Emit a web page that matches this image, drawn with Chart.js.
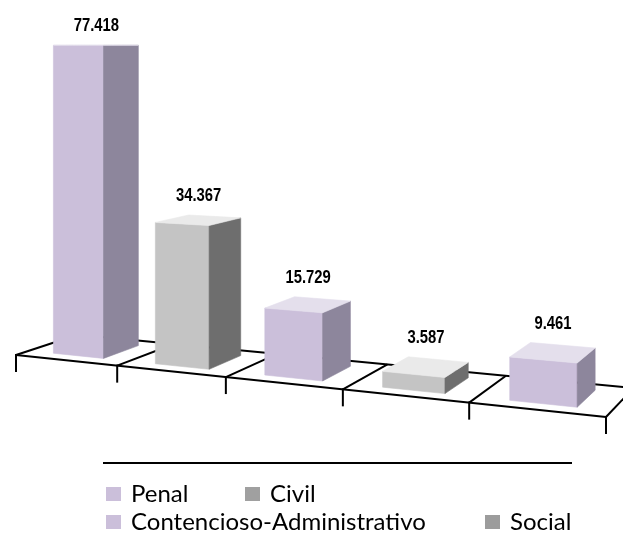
<!DOCTYPE html>
<html>
<head>
<meta charset="utf-8">
<script src="https://cdn.jsdelivr.net/npm/chart.js@4.4.1/dist/chart.umd.min.js"></script>
<style>
  html, body { margin: 0; padding: 0; background: #fff; }
  #chart { display: block; }
</style>
</head>
<body>
<canvas id="chart" width="623" height="535"></canvas>
<script>
// data
const categories = ["Penal", "Civil", "Contencioso-Administrativo", "Social", "Militar"];
const values = [77418, 34367, 15729, 3587, 9461];
const legendLabels = ["Penal", "Civil", "Contencioso-Administrativo", "Social"];

// styles
const frontColors = ["#CBBFDA", "#C4C4C4", "#CBBFDA", "#C4C4C4", "#CBBFDA"];
const sideColors = ["#8D869C", "#6E6E6E", "#8D869C", "#6E6E6E", "#8D869C"];
const topColors = ["#E4DFEC", "#EAEAEA", "#E4DFEC", "#EAEAEA", "#E4DFEC"];
const legendColors = ["#CBBFDA", "#A0A0A0", "#CBBFDA", "#9C9C9C"];

// 3d view: floor corners on screen, horizon line, bar depth on the floor
const HORIZON = 43;
const CAMERA_H = 78000; // value whose top would sit on the horizon
const FLOOR = { fl: [16, 355], fr: [606, 417], br: [633.6, 388], bl: [77.6, 334.7] };
const DEPTH = [0.2, 0.8];

function fmt(v) {
  return String(v).replace(/\B(?=(\d{3})+(?!\d))/g, ".");
}

// unit square -> floor quad
function makeHomography(p0, p1, p2, p3) {
  const dx1 = p1[0] - p2[0], dx2 = p3[0] - p2[0], dx3 = p0[0] - p1[0] + p2[0] - p3[0];
  const dy1 = p1[1] - p2[1], dy2 = p3[1] - p2[1], dy3 = p0[1] - p1[1] + p2[1] - p3[1];
  const den = dx1 * dy2 - dx2 * dy1;
  const g = (dx3 * dy2 - dx2 * dy3) / den;
  const h = (dx1 * dy3 - dx3 * dy1) / den;
  const a = p1[0] - p0[0] + g * p1[0], b = p3[0] - p0[0] + h * p3[0], c = p0[0];
  const d = p1[1] - p0[1] + g * p1[1], e = p3[1] - p0[1] + h * p3[1], f = p0[1];
  return (u, v) => {
    const w = g * u + h * v + 1;
    return [(a * u + b * v + c) / w, (d * u + e * v + f) / w];
  };
}
const floorAt = makeHomography(FLOOR.fl, FLOOR.fr, FLOOR.br, FLOOR.bl);

// point on the floor at (u, v), lifted by t (fraction of camera height)
function project(u, v, t) {
  const p = floorAt(u, v);
  return [p[0], HORIZON + (p[1] - HORIZON) * (1 - t)];
}

function poly(ctx, pts, color) {
  ctx.beginPath();
  ctx.moveTo(pts[0][0], pts[0][1]);
  for (let i = 1; i < pts.length; i++) ctx.lineTo(pts[i][0], pts[i][1]);
  ctx.closePath();
  ctx.fillStyle = color;
  ctx.fill();
  ctx.strokeStyle = color;
  ctx.lineWidth = 0.6;
  ctx.stroke();
}

function line(ctx, a, b) {
  ctx.beginPath();
  ctx.moveTo(a[0], a[1]);
  ctx.lineTo(b[0], b[1]);
  ctx.stroke();
}

const boxes3d = {
  id: "boxes3d",
  beforeDatasetsDraw() {
    return false;
  },
  afterDraw(chart) {
    const ctx = chart.ctx;
    const area = chart.chartArea;
    const ys = chart.scales.y;
    const n = categories.length;
    ctx.save();

    // floor grid
    ctx.strokeStyle = "#000";
    ctx.lineWidth = 2;
    ctx.lineCap = "butt";
    line(ctx, project(0, 0, 0), project(1, 0, 0));
    line(ctx, project(0, 1, 0), project(1, 1, 0));
    for (let i = 0; i <= n; i++) {
      const u = i / n;
      line(ctx, project(u, 0, 0), project(u, 1, 0));
      const p = project(u, 0, 0);
      line(ctx, [p[0], p[1] - 1], [p[0], p[1] + 17]);
    }

    // bars
    const meta = chart.getDatasetMeta(0);
    const fullPx = ys.getPixelForValue(0) - ys.getPixelForValue(CAMERA_H);
    const [v0, v1] = DEPTH;
    meta.data.forEach((bar, i) => {
      const { x, y, base, width } = bar.getProps(["x", "y", "base", "width"], true);
      const u0 = (x - width / 2 - area.left) / (area.right - area.left);
      const u1 = (x + width / 2 - area.left) / (area.right - area.left);
      const t = (base - y) / fullPx;

      poly(ctx, [project(u0, v0, 0), project(u1, v0, 0), project(u1, v0, t), project(u0, v0, t)], frontColors[i]);
      poly(ctx, [project(u1, v0, 0), project(u1, v1, 0), project(u1, v1, t), project(u1, v0, t)], sideColors[i]);
      poly(ctx, [project(u0, v0, t), project(u1, v0, t), project(u1, v1, t), project(u0, v1, t)], topColors[i]);

      // value label, narrowed to look like a condensed bold face
      const c = project((u0 + u1) / 2, (v0 + v1) / 2, t);
      const back = project(u0, v1, t);
      ctx.save();
      ctx.translate(c[0], back[1] - 14);
      ctx.scale(0.78, 1);
      ctx.fillStyle = "#000";
      ctx.font = 'bold 19px "Liberation Sans", Arial, sans-serif';
      ctx.textAlign = "center";
      ctx.textBaseline = "alphabetic";
      ctx.fillText(fmt(values[i]), 0, 0);
      ctx.restore();
    });

    // legend
    ctx.strokeStyle = "#000";
    ctx.lineWidth = 2;
    line(ctx, [103, 463], [572, 463]);
    const slots = [[106, 494], [245, 494], [106, 522], [485, 522]];
    ctx.font = '24px Lato, "Liberation Sans", sans-serif';
    ctx.textAlign = "left";
    ctx.textBaseline = "middle";
    legendLabels.forEach((label, i) => {
      const [sx, sy] = slots[i];
      ctx.fillStyle = legendColors[i];
      ctx.fillRect(sx, sy - 7, 15, 14);
      ctx.fillStyle = "#000";
      ctx.fillText(label, sx + 25, sy);
    });
    ctx.restore();
  }
};

new Chart(document.getElementById("chart"), {
  type: "bar",
  data: {
    labels: categories,
    datasets: [{
      data: values,
      backgroundColor: frontColors,
      categoryPercentage: 0.5,
      barPercentage: 1
    }]
  },
  options: {
    responsive: false,
    devicePixelRatio: 1,
    animation: false,
    layout: { padding: 0 },
    plugins: { legend: { display: false }, tooltip: { enabled: false } },
    scales: {
      x: { display: false },
      y: { display: false, min: 0, max: CAMERA_H }
    }
  },
  plugins: [boxes3d]
});
</script>
</body>
</html>
